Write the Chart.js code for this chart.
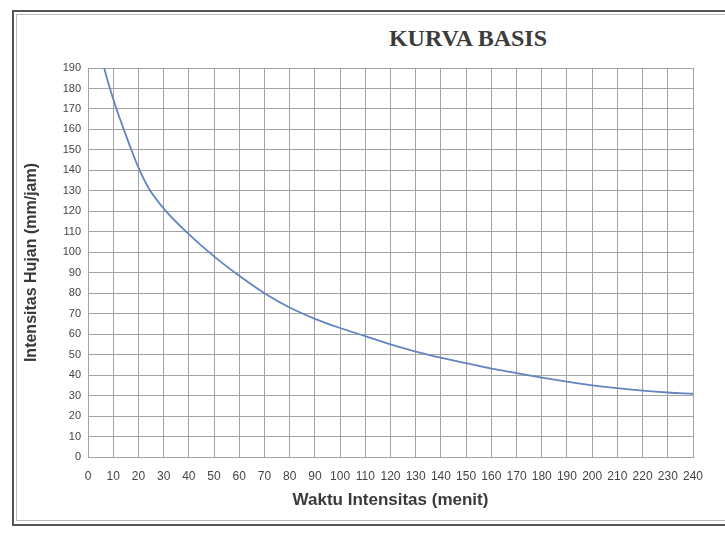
<!DOCTYPE html>
<html>
<head>
<meta charset="utf-8">
<script src="https://cdn.jsdelivr.net/npm/chart.js@4.4.1/dist/chart.umd.min.js"></script>
<style>
  html, body { margin: 0; padding: 0; background: #fff; }
  #wrap { position: relative; width: 725px; height: 535px; overflow: hidden; }
  #frame { position: absolute; left: 12px; top: 10px; width: 740px; height: 512px; border: 2px solid #555; border-right: none; }
  #frameInner { position: absolute; left: 16px; top: 14px; width: 740px; height: 505px; border: 1px solid #bbb; border-right: none; }
  #title { position: absolute; left: 300px; width: 336px; top: 25px; text-align: center; font: bold 24px "Liberation Serif", "Times New Roman", serif; color: #3c3c3c; }
  canvas { position: absolute; left: 0; top: 0; }
</style>
</head>
<body>
<div id="wrap">
  <div id="frame"></div>
  <div id="frameInner"></div>
  <div id="title">KURVA BASIS</div>
  <canvas id="chart" width="725" height="535"></canvas>
</div>
<script>
// waktu (menit) vs intensitas hujan (mm/jam)
const waktu = [6.4, 8.7, 11.3, 14.2, 17.2, 20.5, 24.7, 31, 39, 50, 60, 70, 80, 90, 100, 110, 120, 130, 140, 150, 160, 170, 180, 190, 200, 210, 220, 230, 240];
const intensitas = [190, 180, 170, 160, 150, 140, 130, 120, 110, 98, 88.5, 80, 73, 67.5, 63, 59, 55, 51.5, 48.5, 45.8, 43.2, 41, 38.8, 36.8, 35, 33.6, 32.4, 31.5, 30.9];

const xMin = 0, xMax = 240, xStep = 10;
const yMin = 0, yMax = 190, yStep = 10;

const xTitle = 'Waktu Intensitas (menit)';
const yTitle = 'Intensitas Hujan (mm/jam)';

const points = waktu.map((t, i) => ({ x: t, y: intensitas[i] }));
const fontFamily = '"Liberation Sans", Arial, sans-serif';
const gridColor = '#a3a3a3';

new Chart(document.getElementById('chart'), {
    type: 'line',
    data: {
        datasets: [{
            data: points,
            borderColor: '#6384c0',
            borderWidth: 1.8,
            pointRadius: 0,
            cubicInterpolationMode: 'monotone',
            fill: false
        }]
    },
    options: {
        responsive: false,
        animation: false,
        layout: { padding: { top: 68, right: 32, left: 0, bottom: 0 } },
        plugins: { legend: { display: false }, tooltip: { enabled: false } },
        scales: {
            x: {
                type: 'linear',
                min: xMin, max: xMax,
                ticks: { stepSize: xStep, font: { family: fontFamily, size: 12 }, color: '#444', padding: 12, maxRotation: 0, autoSkip: false },
                grid: { color: gridColor, drawTicks: false },
                border: { color: gridColor },
                title: { display: true, text: xTitle, color: '#3a3a3a', padding: { top: 0, bottom: 24 },
                    font: { family: fontFamily, size: 17, weight: 'bold' } },
                afterFit: s => { s.height = 78; }
            },
            y: {
                min: yMin, max: yMax,
                ticks: { stepSize: yStep, font: { family: fontFamily, size: 11 }, color: '#444', padding: 7, autoSkip: false },
                grid: { color: gridColor, drawTicks: false },
                border: { color: gridColor },
                title: { display: true, text: yTitle, color: '#3a3a3a', padding: { top: 22, bottom: 0 },
                    font: { family: fontFamily, size: 16, weight: 'bold' } },
                afterFit: s => { s.width = 88; }
            }
        }
    }
});
</script>
</body>
</html>
